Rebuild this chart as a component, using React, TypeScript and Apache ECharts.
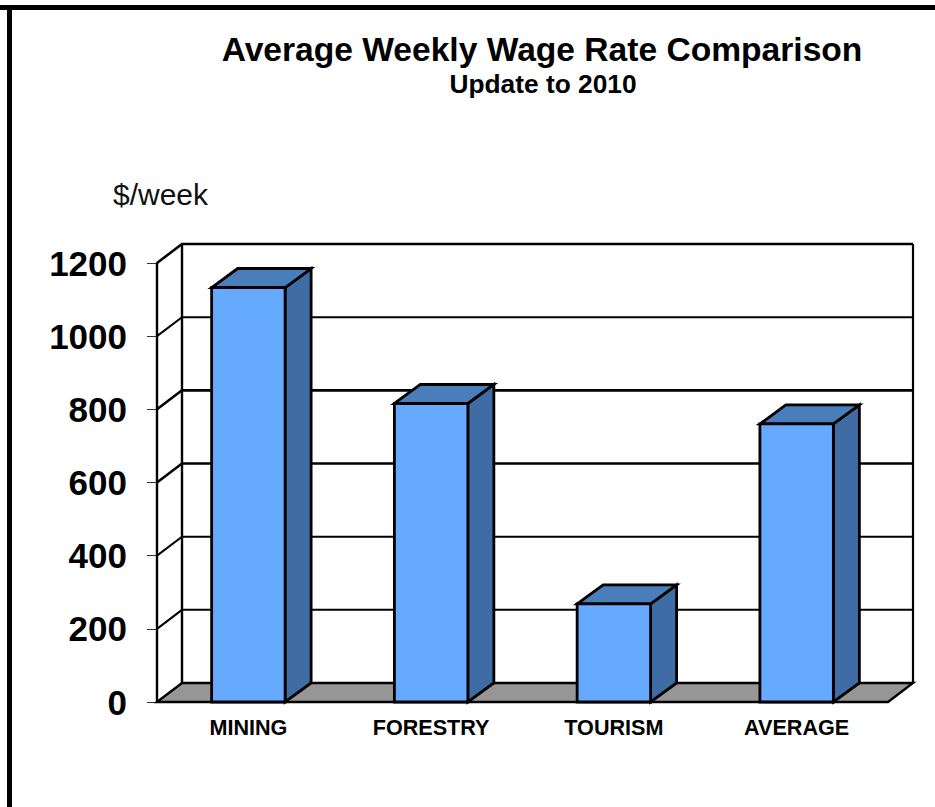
import React, { useEffect, useRef } from "react";
import * as echarts from "echarts";

const categories = ["MINING", "FORESTRY", "TOURISM", "AVERAGE"];
const wages = [1133, 816, 268, 760];
const gridValues = [200, 400, 600, 800, 1000, 1200];
const DX = 25;
const DY = -19;
const INK = "#000000";

const line = (points: number[][], lineWidth: number) => ({
  type: "polyline",
  silent: true,
  shape: { points },
  style: { fill: "none", stroke: INK, lineWidth, lineJoin: "miter" },
});

const renderGrid = (params: any, api: any) => {
  const cs = params.coordSys;
  const v = api.value(1);
  const y = api.coord([0, v])[1];
  const x0 = cs.x;
  const x1 = cs.x + cs.width;
  return line(
    [
      [x0, y],
      [x0 + DX, y + DY],
      [x1 + DX, y + DY],
    ],
    v === 200 || v === 400 || v === 1000 ? 2 : 2.6
  );
};

const renderFrame = (params: any, api: any) => {
  const cs = params.coordSys;
  const yBase = api.coord([0, 0])[1];
  const yTop = api.coord([0, api.value(1)])[1];
  const x0 = cs.x;
  const x1 = cs.x + cs.width;
  return {
    type: "group",
    children: [
      {
        type: "polygon",
        silent: true,
        shape: {
          points: [
            [x0, yBase],
            [x0 + DX, yBase + DY],
            [x1 + DX, yBase + DY],
            [x1, yBase],
          ],
        },
        style: { fill: "#969696", stroke: INK, lineWidth: 2.4 },
      },
      line(
        [
          [x0 + DX, yBase + DY],
          [x0 + DX, yTop + DY],
        ],
        2.4
      ),
      line(
        [
          [x1 + DX, yBase + DY],
          [x1 + DX, yTop + DY],
        ],
        2.2
      ),
      line(
        [
          [x0, yBase],
          [x0, yTop],
        ],
        2.4
      ),
    ],
  };
};

const renderBar = (_params: any, api: any) => {
  const idx = api.value(0);
  const [cx, yTop] = api.coord([idx, api.value(1)]);
  const yBase = api.coord([idx, 0])[1];
  const w = api.size([1, 0])[0] * 0.402;
  const l = cx - w / 2;
  const r = cx + w / 2;
  const stroke = { stroke: INK, lineWidth: 2.8, lineJoin: "miter" };
  return {
    type: "group",
    children: [
      {
        type: "polygon",
        shape: {
          points: [
            [r, yTop],
            [r + DX + 1, yTop + DY],
            [r + DX + 1, yBase + DY],
            [r, yBase],
          ],
        },
        style: { fill: "#3F6CA5", ...stroke },
      },
      {
        type: "polygon",
        shape: {
          points: [
            [l, yTop],
            [l + DX + 1, yTop + DY],
            [r + DX + 1, yTop + DY],
            [r, yTop],
          ],
        },
        style: { fill: "#4A7EBB", ...stroke },
      },
      {
        type: "rect",
        shape: { x: l, y: yTop, width: r - l, height: yBase - yTop },
        style: { fill: "#66AAFF", ...stroke },
      },
    ],
  };
};

export default function App() {
  const ref = useRef<HTMLDivElement>(null);
  useEffect(() => {
    const chart = echarts.init(ref.current!, undefined, { renderer: "svg" });
    const font = "'Liberation Sans', Arial, sans-serif";
    chart.setOption({
      animation: false,
      backgroundColor: "#ffffff",
      textStyle: { fontFamily: font },
      grid: { left: 157, right: 47, top: 263, bottom: 105 },
      title: [
        {
          text: "Average Weekly Wage Rate Comparison",
          left: 537,
          top: 27,
          textAlign: "center",
          textStyle: { fontFamily: font, fontSize: 33.6, fontWeight: "bold", color: INK },
        },
        {
          text: "Update to 2010",
          left: 538,
          top: 66,
          textAlign: "center",
          textStyle: { fontFamily: font, fontSize: 26.3, fontWeight: "bold", color: INK },
        },
        {
          text: "$/week",
          left: 108,
          top: 174,
          textStyle: { fontFamily: font, fontSize: 30, fontWeight: "normal", color: "#111111" },
        },
      ],
      graphic: [
        { type: "rect", shape: { x: 0, y: 5, width: 935, height: 5 }, style: { fill: INK } },
        { type: "rect", shape: { x: 7, y: 5, width: 5, height: 802 }, style: { fill: INK } },
      ],
      xAxis: {
        type: "category",
        data: categories,
        axisLine: { lineStyle: { color: INK, width: 2 } },
        axisTick: { length: 6, lineStyle: { color: "#555555", width: 1 } },
        axisLabel: { fontFamily: font, fontSize: 21.6, fontWeight: "bold", color: INK, margin: 14 },
      },
      yAxis: {
        type: "value",
        min: 0,
        max: 1200,
        interval: 200,
        splitLine: { show: false },
        axisLine: { show: true, lineStyle: { color: INK, width: 2 } },
        axisTick: { show: true, length: 10, lineStyle: { color: "#333333", width: 1 } },
        axisLabel: {
          fontFamily: font,
          fontSize: 35,
          fontWeight: "bold",
          color: INK,
          margin: 30,
          formatter: (v: number) => String(v),
        },
      },
      series: [
        {
          type: "custom",
          name: "frame",
          renderItem: renderFrame,
          data: [[0, 1200]],
          encode: { x: 0, y: 1 },
          clip: false,
          silent: true,
          z: 1,
        },
        {
          type: "custom",
          name: "grid",
          renderItem: renderGrid,
          data: gridValues.map((v) => [0, v]),
          encode: { x: 0, y: 1 },
          clip: false,
          silent: true,
          z: 2,
        },
        {
          type: "custom",
          name: "wage",
          renderItem: renderBar,
          data: wages.map((v, i) => [i, v]),
          encode: { x: 0, y: 1 },
          clip: false,
          z: 3,
        },
      ],
    });
    return () => chart.dispose();
  }, []);
  return (
    <div
      ref={ref}
      style={{ position: "absolute", left: 0, top: 0, width: 935, height: 807 }}
    />
  );
}
